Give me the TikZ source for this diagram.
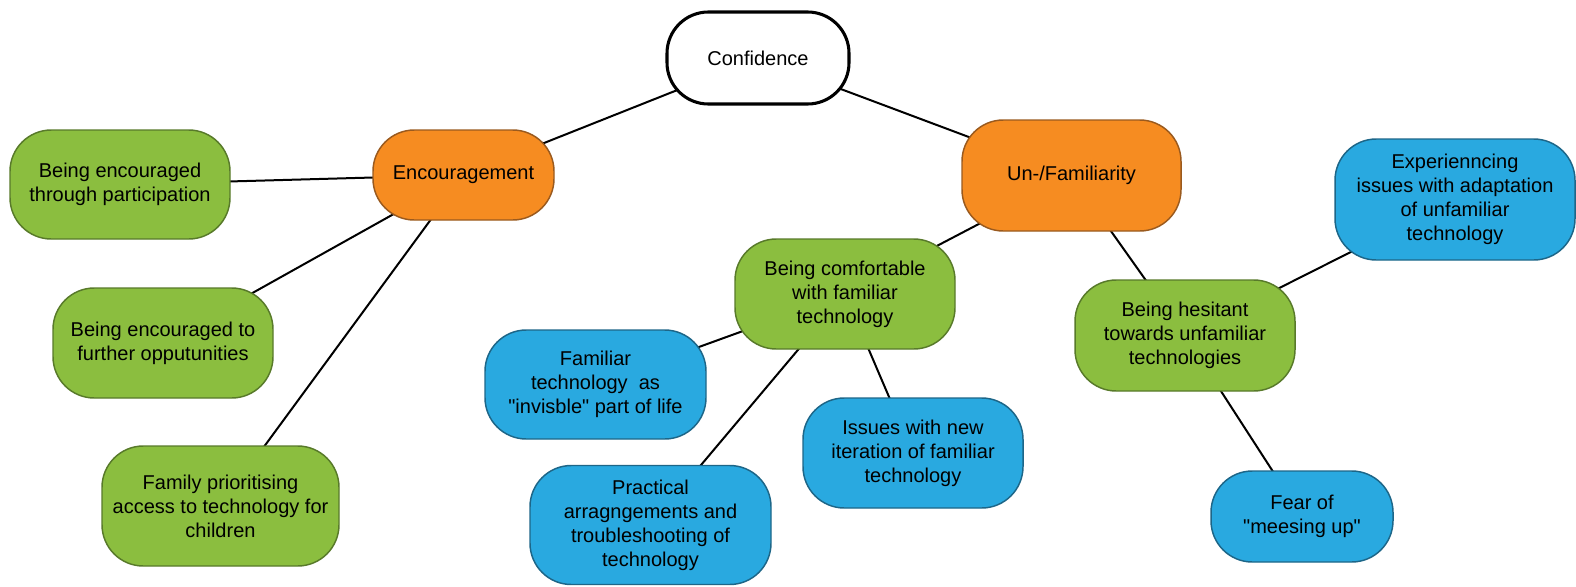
\documentclass[tikz,border=0pt]{standalone}
\usepackage{fontspec}
\setmainfont{Liberation Sans}
\usetikzlibrary{backgrounds}
\definecolor{orfill}{HTML}{F68C21}
\definecolor{ordraw}{HTML}{9A5A1E}
\definecolor{grfill}{HTML}{8BBE3F}
\definecolor{grdraw}{HTML}{587A2A}
\definecolor{blfill}{HTML}{29A9E0}
\definecolor{bldraw}{HTML}{1D6688}
\begin{document}
\begin{tikzpicture}[x=0.75pt,y=-0.75pt,
  box/.style={draw, line width=1.1pt, rounded corners=31pt, align=center,
    font=\fontsize{15}{18}\selectfont, inner sep=0pt},
  sz/.style 2 args={minimum width=#1*0.75pt, minimum height=#2*0.75pt},
  core/.style={box, fill=white, draw=black, line width=2.3pt},
  theme/.style={box, fill=orfill, draw=ordraw},
  sub/.style={box, fill=grfill, draw=grdraw},
  leaf/.style={box, fill=blfill, draw=bldraw},
  link/.style={line width=1.5pt, draw=black}]
\useasboundingbox (0,0) rectangle (1576,586);

\node[core, sz={182}{92}] (conf) at (758,58) {Confidence};
\node[theme, sz={181}{90}] (enc) at (463.5,175) {Encouragement};
\node[theme, sz={219}{111}] (unf) at (1071.5,175.5) {Un-/Familiarity};

\node[sub, sz={220}{109}] (part) at (120,184.5) {Being encouraged\\through participation};
\node[sub, sz={220}{110}] (furt) at (163,343) {Being encouraged to\\further opputunities};
\node[sub, sz={237}{120}] (fam) at (220.5,506) {Family prioritising\\access to technology for\\children};
\node[sub, sz={220}{110}] (comf) at (845,294) {Being comfortable\\with familiar\\technology};
\node[sub, sz={220}{111}] (hes) at (1185,335.5) {Being hesitant\\towards unfamiliar\\technologies};

\node[leaf, sz={221}{109}] (invis) at (595.5,384.5) {Familiar\\technology\ \ as\\\textquotedbl invisble\textquotedbl{} part of life};
\node[leaf, sz={241}{119}] (prac) at (650.5,525) {Practical\\arragngements and\\troubleshooting of\\technology};
\node[leaf, sz={220}{110}] (iter) at (913,453) {Issues with new\\iteration of familiar\\technology};
\node[leaf, sz={240}{121}] (adap) at (1455,199.5) {Experienncing\\issues with adaptation\\of unfamiliar\\technology};
\node[leaf, sz={182}{91}] (fear) at (1302,516.5) {Fear of\\\textquotedbl meesing up\textquotedbl};

\begin{scope}[on background layer]
\draw[link] (conf.center) -- (enc.center);
\draw[link] (conf.center) -- (unf.center);
\draw[link] (enc.center) -- (part.center);
\draw[link] (enc.center) -- (furt.center);
\draw[link] (enc.center) -- (fam.center);
\draw[link] (unf.center) -- (comf.center);
\draw[link] (unf.center) -- (hes.center);
\draw[link] (comf.center) -- (invis.center);
\draw[link] (comf.center) -- (prac.center);
\draw[link] (comf.center) -- (iter.center);
\draw[link] (hes.center) -- (adap.center);
\draw[link] (hes.center) -- (fear.center);
\end{scope}
\end{tikzpicture}
\end{document}
